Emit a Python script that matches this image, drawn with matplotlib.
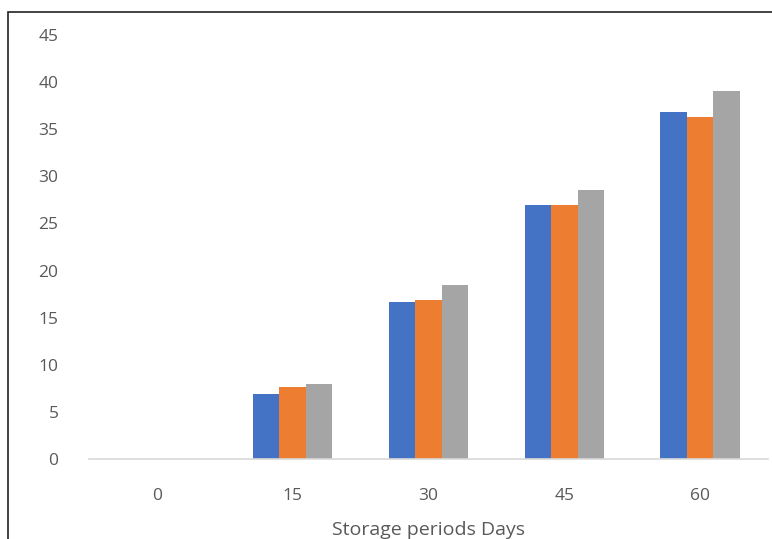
import numpy as np
import matplotlib.pyplot as plt
from matplotlib.patches import Rectangle

# Данные
periods = ["0", "15", "30", "45", "60"]
series_1 = [0, 6.9, 16.7, 27.0, 36.8]
series_2 = [0, 7.6, 16.9, 27.0, 36.3]
series_3 = [0, 8.0, 18.5, 28.6, 39.1]
colors = ["#4472C4", "#ED7D31", "#A5A5A5"]
y_ticks = list(range(0, 50, 5))


def draw_chart():
    fig = plt.figure(figsize=(7.72, 5.39), dpi=100)
    ax = fig.add_axes([89 / 772, 1 - 459 / 539, (768 - 89) / 772, (459 - 35) / 539])

    x = np.arange(len(periods))
    width = 0.195
    for i, (vals, c) in enumerate(zip([series_1, series_2, series_3], colors)):
        ax.bar(x + (i - 1) * width, vals, width, color=c, edgecolor="none")

    ax.set_xlim(-0.5, len(periods) - 0.5)
    ax.set_ylim(0, 45)
    ax.set_yticks(y_ticks)
    ax.set_xticks(x)
    ax.set_xticklabels(periods)
    ax.tick_params(length=0, labelsize=12.5, labelcolor="#595959")
    ax.tick_params(axis="y", pad=22)
    ax.tick_params(axis="x", pad=21)

    for s in ["top", "right", "left"]:
        ax.spines[s].set_visible(False)
    ax.spines["bottom"].set_color("#D9D9D9")
    ax.spines["bottom"].set_linewidth(1.2)

    ax.set_xlabel("Storage periods Days", fontsize=14, color="#595959", labelpad=12)

    # рамка вокруг рисунка (обрезана справа и снизу)
    fig.patches.append(Rectangle((8 / 772, -0.1), 1.2, 1 - 12 / 539 + 0.1,
                                 transform=fig.transFigure, fill=False,
                                 edgecolor="#222222", linewidth=1.2))

    fig.savefig("out.png", dpi=100)


if __name__ == "__main__":
    plt.rcParams["font.family"] = ["Open Sans", "DejaVu Sans"]
    draw_chart()
